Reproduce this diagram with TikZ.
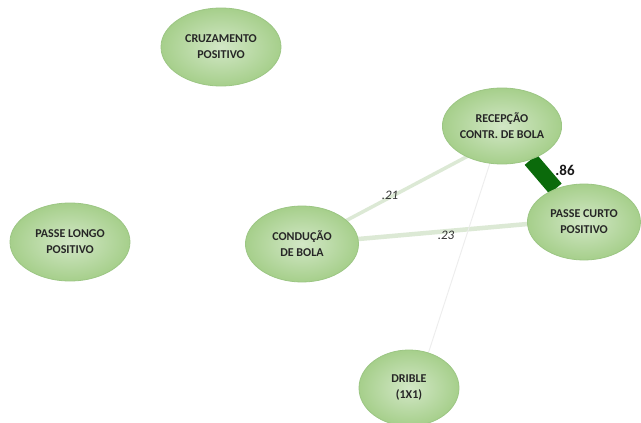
\documentclass[tikz,border=0pt]{standalone}
\usepackage{fontspec}
\setmainfont{Carlito}
\usetikzlibrary{shapes.geometric,backgrounds,calc}
\definecolor{nodeIn}{HTML}{D2E7C6}
\definecolor{nodeOut}{HTML}{A6CF8B}
\definecolor{nodeLine}{HTML}{9CC684}
\definecolor{strongEdge}{HTML}{0B6A0B}
\definecolor{weakEdge}{HTML}{DCE9D5}
\definecolor{faintEdge}{HTML}{EDEDED}
\tikzset{
  actnode/.style={ellipse, draw=nodeLine, line width=0.8pt, inner color=nodeIn, outer color=nodeOut,
    minimum width=113pt, minimum height=76pt, inner sep=0pt, align=center,
    font=\fontsize{12}{16}\selectfont\bfseries, text=black!85},
  bignode/.style={actnode, minimum width=120pt, minimum height=78pt},
  weaklink/.style={draw=weakEdge, line width=4pt},
  faintlink/.style={draw=faintEdge, line width=0.9pt},
  stronglink/.style={draw=strongEdge, line width=16pt},
  wlabel/.style={font=\fontsize{13}{15}\selectfont\itshape, text=black!80},
  slabel/.style={font=\fontsize{15}{17}\selectfont\bfseries, text=black!90}
}
\begin{document}
\begin{tikzpicture}[x=1pt,y=-1pt]
\useasboundingbox (0,0) rectangle (641,423);
\node[bignode] (cruz) at (221,47) {CRUZAMENTO\\POSITIVO};
\node[bignode] (longo) at (70,242) {PASSE LONGO\\POSITIVO};
\node[actnode] (rec) at (502,126) {RECEPÇÃO\\CONTR. DE BOLA};
\node[actnode] (curto) at (584,222) {PASSE CURTO\\POSITIVO};
\node[actnode] (cond) at (302,244) {CONDUÇÃO\\DE BOLA};
\node[actnode, minimum width=100pt, minimum height=76pt] (drib) at (409,388) {DRIBLE\\(1X1)};
\begin{scope}[on background layer]
\fill[white] (0,0) rectangle (641,423);
\draw[weaklink, line width=3.5pt] (cond.center) -- ($(rec.center)+(0,12)$);
\draw[weaklink, line width=4.5pt] (cond.center) -- ($(curto.center)+(0,-3)$);
\draw[faintlink] ($(drib.center)+(8,0)$) -- (rec.center);
\draw[stronglink] (rec) -- (curto);
\end{scope}
\node[wlabel] (l21) at (390,195) {.21};
\node[wlabel] (l23) at (446,235) {.23};
\node[slabel] (l86) at (565,170) {.86};
\end{tikzpicture}
\end{document}
